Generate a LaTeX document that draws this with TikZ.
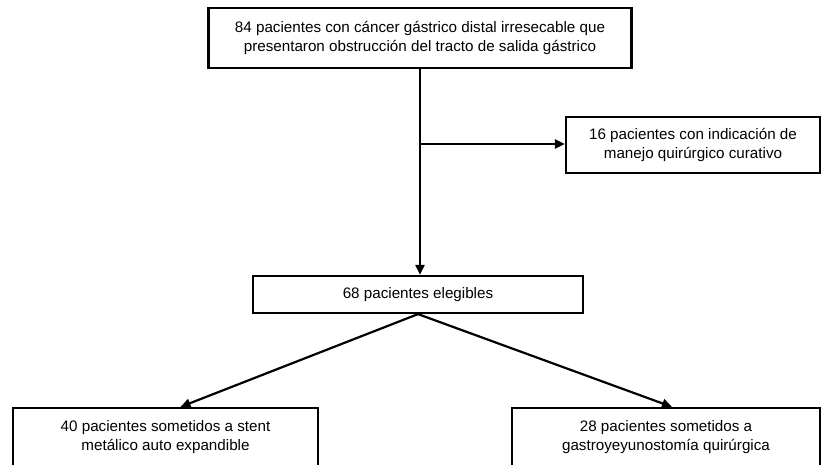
\documentclass[tikz,border=0pt]{standalone}
\usepackage{fontspec}
\setmainfont{Liberation Sans}
\usetikzlibrary{arrows.meta,positioning}

\tikzset{
  caja/.style={draw,line width=2.2pt,align=center,inner sep=2pt,
    font=\fontsize{15.2}{18.5}\selectfont},
  flecha/.style={line width=2.2pt,-{Triangle[length=10pt,width=9pt]}},
}

\begin{document}
\begin{tikzpicture}[x=1pt,y=-1pt]
  \useasboundingbox (0,0) rectangle (832,464);
  \begin{scope}
    \clip (0,0) rectangle (832,464);
    \node [caja,minimum width=423pt,minimum height=60pt] (total) at (420,38)
      {84 pacientes con cáncer gástrico distal irresecable que\\
       presentaron obstrucción del tracto de salida gástrico};
    \node [caja,minimum width=254pt,minimum height=56pt] (cirugia) at (693,145)
      {16 pacientes con indicación de\\manejo quirúrgico curativo};
    \node [caja,minimum width=330pt,minimum height=37pt] (elegibles) at (418,294.5)
      {68 pacientes elegibles};
    \node [caja,minimum width=305pt,minimum height=58pt] (stent) at (165.5,437)
      {40 pacientes sometidos a stent\\metálico auto expandible};
    \node [caja,minimum width=308pt,minimum height=58pt] (gastro) at (666,437)
      {28 pacientes sometidos a\\gastroyeyunostomía quirúrgica};
    % conectores
    \coordinate (rama) at (total.south |- 0,144);
    \draw [flecha] (total.south) -- (total.south |- elegibles.north);
    \draw [flecha] (rama) -- (rama -| cirugia.west);
    \draw [flecha] (elegibles.south) -- ([xshift=15pt]stent.north);
    \draw [flecha] (elegibles.south) -- ([xshift=6pt]gastro.north);
  \end{scope}
\end{tikzpicture}
\end{document}
